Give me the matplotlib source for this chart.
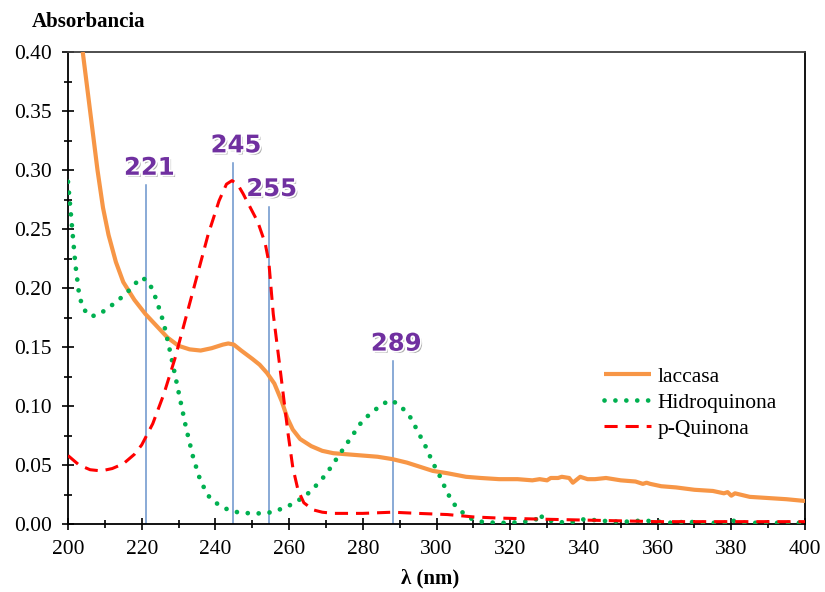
import numpy as np
import matplotlib.pyplot as plt
import matplotlib.patheffects as pe
from matplotlib.ticker import MultipleLocator

# spectra (wavelength nm, absorbance)
lac_x = [204, 205, 206, 207, 208, 209.5, 211, 213, 215, 218, 221, 224, 227, 230, 233, 236,
         239, 242, 243.5, 245, 247, 250, 252, 254, 256, 258, 259.5, 261, 263, 266, 269, 272,
         276, 280, 284, 288, 292, 296, 299, 303, 308, 312, 317, 322, 326, 328, 330, 331,
         333, 334, 336, 337, 339, 341, 343, 346, 350, 354, 356, 357, 358, 361, 365, 370,
         375, 378, 379, 380, 381, 385, 390, 395, 400]
lac_y = [0.400, 0.375, 0.350, 0.325, 0.300, 0.268, 0.245, 0.222, 0.205, 0.190, 0.178,
         0.168, 0.158, 0.151, 0.148, 0.147, 0.149, 0.152, 0.153, 0.152, 0.147, 0.140,
         0.135, 0.128, 0.119, 0.104, 0.090, 0.080, 0.072, 0.066, 0.062, 0.060, 0.059,
         0.058, 0.057, 0.055, 0.052, 0.048, 0.045, 0.043, 0.040, 0.039, 0.038, 0.038,
         0.037, 0.038, 0.037, 0.039, 0.039, 0.040, 0.039, 0.035, 0.040, 0.038, 0.038,
         0.039, 0.037, 0.036, 0.034, 0.035, 0.034, 0.032, 0.031, 0.029, 0.028, 0.026,
         0.027, 0.024, 0.026, 0.023, 0.022, 0.021, 0.0195]

hq_x = [200, 201, 202, 203, 204, 206, 208, 210, 213, 216, 218, 220, 222, 224, 226, 228,
        230, 232, 234, 236, 238.5, 241, 243.5, 246, 249.5, 252, 255.5, 258, 261, 263.5,
        266, 270, 275, 280, 285, 287.5, 290, 293, 295, 297, 299, 301, 303, 305, 307, 309,
        312, 316, 320, 324, 327, 328, 329, 332, 336, 340, 344, 348, 352, 356, 360, 364,
        368, 372, 376, 379, 380, 381, 384, 388, 392, 396, 400]
hq_y = [0.290, 0.255, 0.220, 0.195, 0.183, 0.176, 0.177, 0.181, 0.188, 0.196, 0.203,
        0.209, 0.205, 0.190, 0.170, 0.142, 0.112, 0.082, 0.056, 0.036, 0.022, 0.016,
        0.012, 0.010, 0.009, 0.009, 0.010, 0.013, 0.017, 0.022, 0.028, 0.042, 0.065,
        0.088, 0.101, 0.105, 0.101, 0.090, 0.078, 0.066, 0.052, 0.040, 0.026, 0.016,
        0.010, 0.005, 0.002, 0.001, 0.001, 0.002, 0.004, 0.009, 0.004, 0.002, 0.001,
        0.004, 0.003, 0.002, 0.002, 0.003, 0.002, 0.001, 0.002, 0.001, 0.001, 0.001,
        0.004, 0.002, 0.001, 0.001, 0.001, 0.001, 0.001]

pq_x = [200, 203, 206, 209, 212, 215, 218, 220, 223, 226, 229, 232, 235, 238, 241, 243,
        244.5, 246, 247.5, 249.5, 251.5, 253.5, 254.5, 255.7, 257.5, 259.7, 261, 262.4,
        264, 266.5, 269, 272, 280, 288, 295, 303, 310, 317, 330, 345, 360, 380, 400]
pq_y = [0.058, 0.050, 0.046, 0.045, 0.047, 0.051, 0.059, 0.067, 0.085, 0.110, 0.140,
        0.175, 0.210, 0.245, 0.274, 0.288, 0.291, 0.288, 0.280, 0.268, 0.256, 0.238,
        0.222, 0.178, 0.133, 0.077, 0.048, 0.029, 0.018, 0.012, 0.010, 0.009, 0.009,
        0.010, 0.009, 0.008, 0.006, 0.005, 0.004, 0.003, 0.002, 0.002, 0.002]

# marked peaks
peak_x = [221.3, 244.8, 254.5, 288.3]
peak_top = [0.287, 0.306, 0.269, 0.138]
peak_labels = ['221', '245', '255', '289']

plt.rcParams['font.family'] = ['Liberation Serif', 'DejaVu Serif']

fig = plt.figure(figsize=(8.25, 5.92), dpi=100)
ax = fig.add_axes([68 / 825, 68 / 592, 737 / 825, 472 / 592])

for px, top in zip(peak_x, peak_top):
    ax.plot([px, px], [0, top], color='#6A93CC', lw=1.1, zorder=1)

ax.plot(lac_x, lac_y, color='#F79646', lw=3, label='laccasa', zorder=3,
        solid_capstyle='butt')
ax.plot(hq_x, hq_y, color='#00B050', lw=3.4, linestyle=(0, (0.01, 2.3)),
        dash_capstyle='round', label='Hidroquinona', zorder=3)
ax.plot(pq_x, pq_y, color='#FF0000', lw=2.2, linestyle=(0, (4.3, 2.6)),
        label='p-Quinona', zorder=3)

effects = [pe.SimplePatchShadow(offset=(1.5, -1.5), shadow_rgbFace='#9a9a9a', alpha=0.8),
           pe.Stroke(linewidth=2.5, foreground='white'), pe.Normal()]
for px, top, lab in zip(peak_x, peak_top, peak_labels):
    ax.annotate(lab, (px, top), xytext=(2, 4), textcoords='offset points',
                ha='center', va='bottom', fontsize=17.5, fontweight='bold',
                family=['DejaVu Sans'], color='#7030A0',
                path_effects=effects, zorder=5)

ax.set_xlim(200, 400)
ax.set_ylim(0, 0.40)
ax.xaxis.set_major_locator(MultipleLocator(20))
ax.xaxis.set_minor_locator(MultipleLocator(10))
ax.yaxis.set_major_locator(MultipleLocator(0.05))
ax.yaxis.set_minor_locator(MultipleLocator(0.025))
ax.yaxis.set_major_formatter(plt.FormatStrFormatter('%.2f'))
ax.tick_params(which='major', direction='inout', length=9, width=1.2,
               labelsize=15.5, pad=7)
ax.tick_params(which='minor', direction='inout', length=6, width=1.2)
for s in ['left', 'bottom', 'right']:
    ax.spines[s].set_linewidth(1.3)
    ax.spines[s].set_color('black')
ax.spines['top'].set_color('#404040')
ax.spines['top'].set_linewidth(1.3)

ax.legend(loc='upper left', bbox_to_anchor=(0.715, 0.352), frameon=False,
          fontsize=15.5, handlelength=2.2, handletextpad=0.3, labelspacing=0.28,
          borderaxespad=0)

fig.text(32 / 825, 1 - 22 / 592, 'Absorbancia', fontsize=15, fontweight='bold',
         ha='left', va='center')
fig.text(430 / 825, 1 - 578 / 592, 'λ (nm)', fontsize=15, fontweight='bold',
         ha='center', va='center')

fig.savefig('out.png', dpi=100)
